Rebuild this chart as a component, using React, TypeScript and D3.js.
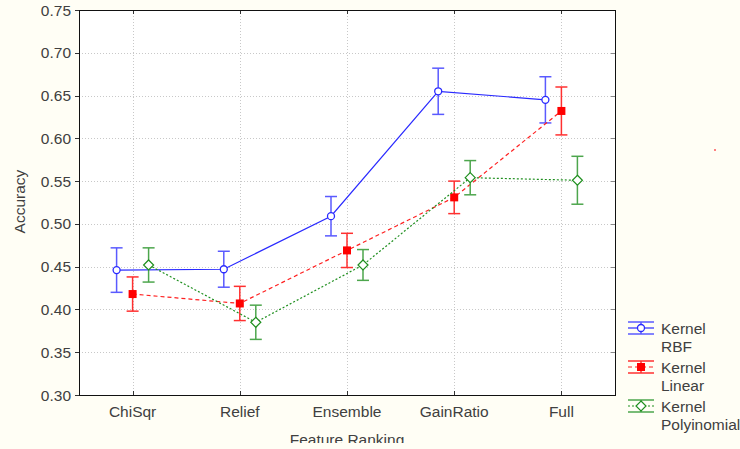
import React, { useEffect, useRef } from "react";
import * as d3 from "d3";

const categories = ["ChiSqr", "Relief", "Ensemble", "GainRatio", "Full"];
const yTicks = [0.3, 0.35, 0.4, 0.45, 0.5, 0.55, 0.6, 0.65, 0.7, 0.75];

const rbfMean = [0.446, 0.447, 0.509, 0.655, 0.645];
const rbfErr = [0.026, 0.021, 0.023, 0.027, 0.027];
const linearMean = [0.418, 0.407, 0.469, 0.531, 0.632];
const linearErr = [0.02, 0.02, 0.02, 0.019, 0.028];
const polyMean = [0.452, 0.385, 0.452, 0.554, 0.551];
const polyErr = [0.02, 0.02, 0.018, 0.02, 0.028];

const seriesNames = [["Kernel", "RBF"], ["Kernel", "Linear"], ["Kernel", "Polyinomial"]];

const W = 740;
const H = 449;

export default function App() {
  const ref = useRef<SVGSVGElement | null>(null);

  useEffect(() => {
    const svg = d3.select(ref.current);
    svg.selectAll("*").remove();

    const left = 79, right = 615, top = 10, bottom = 395;
    const font = "'Liberation Sans', Arial, sans-serif";
    const fs = 15.5;
    const textColor = "#404040";

    const x = d3.scaleBand<string>().domain(categories).range([left, right]);
    const y = d3.scaleLinear().domain([0.3, 0.75]).range([bottom, top]);
    const cx = (c: string) => (x(c) as number) + x.bandwidth() / 2;

    const defs = svg.append("defs");
    defs.append("clipPath").attr("id", "pageClip")
      .append("rect").attr("x", 0).attr("y", 0).attr("width", W).attr("height", 443);

    svg.append("rect").attr("width", W).attr("height", H).attr("fill", "#fffef5");
    svg.append("rect")
      .attr("x", left).attr("y", top)
      .attr("width", right - left).attr("height", bottom - top)
      .attr("fill", "#ffffff");

    // grid
    const grid = svg.append("g").attr("stroke", "#c8c8c8").attr("stroke-dasharray", "1,2").attr("stroke-width", 1);
    yTicks.slice(1, -1).forEach((t) => {
      grid.append("line").attr("x1", left).attr("x2", right)
        .attr("y1", Math.round(y(t)) + 0.5).attr("y2", Math.round(y(t)) + 0.5);
    });
    categories.forEach((c) => {
      grid.append("line").attr("x1", Math.round(cx(c)) + 0.5).attr("x2", Math.round(cx(c)) + 0.5)
        .attr("y1", top).attr("y2", bottom);
    });

    // frame ticks
    const ticks = svg.append("g").attr("stroke", "#333").attr("stroke-width", 1);
    yTicks.forEach((t) => {
      const yy = Math.round(y(t)) + 0.5;
      ticks.append("line").attr("x1", left - 4).attr("x2", left).attr("y1", yy).attr("y2", yy);
      ticks.append("line").attr("x1", right - 4).attr("x2", right).attr("y1", yy).attr("y2", yy).attr("stroke", "#888");
    });
    categories.forEach((c) => {
      const xx = Math.round(cx(c)) + 0.5;
      ticks.append("line").attr("x1", xx).attr("x2", xx).attr("y1", bottom).attr("y2", bottom - 4);
      ticks.append("line").attr("x1", xx).attr("x2", xx).attr("y1", top).attr("y2", top + 4);
    });

    svg.append("rect")
      .attr("x", left + 0.5).attr("y", top + 0.5)
      .attr("width", right - left).attr("height", bottom - top)
      .attr("fill", "none").attr("stroke", "#111").attr("stroke-width", 1);

    // tick labels
    yTicks.forEach((t) => {
      svg.append("text").attr("x", 71).attr("y", y(t) + 5.5)
        .attr("text-anchor", "end").attr("font-family", font).attr("font-size", fs)
        .attr("fill", textColor).text(t.toFixed(2));
    });
    categories.forEach((c) => {
      svg.append("text").attr("x", cx(c)).attr("y", 417)
        .attr("text-anchor", "middle").attr("font-family", font).attr("font-size", fs)
        .attr("fill", textColor).text(c);
    });
    svg.append("text").attr("x", cx("Ensemble")).attr("y", 445)
      .attr("clip-path", "url(#pageClip)")
      .attr("text-anchor", "middle").attr("font-family", font).attr("font-size", fs)
      .attr("fill", textColor).text("Feature Ranking");
    svg.append("text")
      .attr("transform", `translate(25,${(top + bottom) / 2 - 1}) rotate(-90)`)
      .attr("text-anchor", "middle").attr("font-family", font).attr("font-size", fs)
      .attr("fill", textColor).text("Accuracy");

    const series = [
      { mean: rbfMean, err: rbfErr, color: "#2a2aff", barColor: "#5a5aff", dash: null as string | null, offset: -16, marker: "circle" },
      { mean: linearMean, err: linearErr, color: "#ff2020", barColor: "#ff3030", dash: "4,3", offset: 0, marker: "square" },
      { mean: polyMean, err: polyErr, color: "#1f8f1f", barColor: "#4da64d", dash: "2,2", offset: 16, marker: "diamond" },
    ];

    const drawMarker = (g: any, kind: string, px: number, py: number, color: string) => {
      if (kind === "circle") {
        g.append("circle").attr("cx", px).attr("cy", py).attr("r", 3.5)
          .attr("fill", "#fff").attr("stroke", color).attr("stroke-width", 1.3);
      } else if (kind === "square") {
        g.append("rect").attr("x", px - 4).attr("y", py - 4).attr("width", 8).attr("height", 8)
          .attr("fill", "#ff0000");
      } else {
        g.append("path")
          .attr("d", `M${px},${py - 5}L${px + 5},${py}L${px},${py + 5}L${px - 5},${py}Z`)
          .attr("fill", "#fff").attr("stroke", color).attr("stroke-width", 1.2);
      }
    };

    const errBar = (g: any, px: number, y1: number, y2: number, color: string) => {
      g.append("line").attr("x1", px).attr("x2", px).attr("y1", y1).attr("y2", y2)
        .attr("stroke", color).attr("stroke-width", 1.5);
      [y1, y2].forEach((yy) => g.append("line").attr("x1", px - 6).attr("x2", px + 6)
        .attr("y1", yy).attr("y2", yy).attr("stroke", color).attr("stroke-width", 1.5));
    };

    series.forEach((s) => {
      const g = svg.append("g");
      const pts: [number, number][] = categories.map((c, i) => [cx(c) + s.offset, y(s.mean[i])]);
      categories.forEach((c, i) => {
        errBar(g, cx(c) + s.offset, y(s.mean[i] + s.err[i]), y(s.mean[i] - s.err[i]), s.barColor);
      });
      const line = g.append("path").attr("d", d3.line()(pts) as string)
        .attr("fill", "none").attr("stroke", s.color).attr("stroke-width", 1.2);
      if (s.dash) line.attr("stroke-dasharray", s.dash);
      pts.forEach(([px, py]) => drawMarker(g, s.marker, px, py, s.color));
    });

    // legend
    const lg = svg.append("g");
    const lx0 = 628, lx1 = 654;
    series.forEach((s, i) => {
      const cy = 328 + i * 39;
      const midX = (lx0 + lx1) / 2;
      lg.append("line").attr("x1", lx0).attr("x2", lx1).attr("y1", cy).attr("y2", cy)
        .attr("stroke", s.color).attr("stroke-width", 1.2)
        .attr("stroke-dasharray", s.dash ?? null);
      [cy - 6, cy + 6].forEach((yy) => lg.append("line").attr("x1", lx0).attr("x2", lx1)
        .attr("y1", yy).attr("y2", yy).attr("stroke", s.barColor).attr("stroke-width", 1.5));
      lg.append("line").attr("x1", midX).attr("x2", midX).attr("y1", cy - 6).attr("y2", cy + 6)
        .attr("stroke", s.barColor).attr("stroke-width", 1.5);
      drawMarker(lg, s.marker, midX, cy, s.color);
      seriesNames[i].forEach((t, j) => {
        lg.append("text").attr("x", 661).attr("y", cy + 5.5 + j * 18)
          .attr("font-family", font).attr("font-size", fs).attr("fill", textColor).text(t);
      });
    });

    // stray red pixel at right edge
    svg.append("rect").attr("x", 714).attr("y", 149).attr("width", 2).attr("height", 2).attr("fill", "#ff8080");
  }, []);

  return (
    <svg ref={ref} width={W} height={H}
      style={{ position: "absolute", left: 0, top: 0, display: "block" }} />
  );
}
